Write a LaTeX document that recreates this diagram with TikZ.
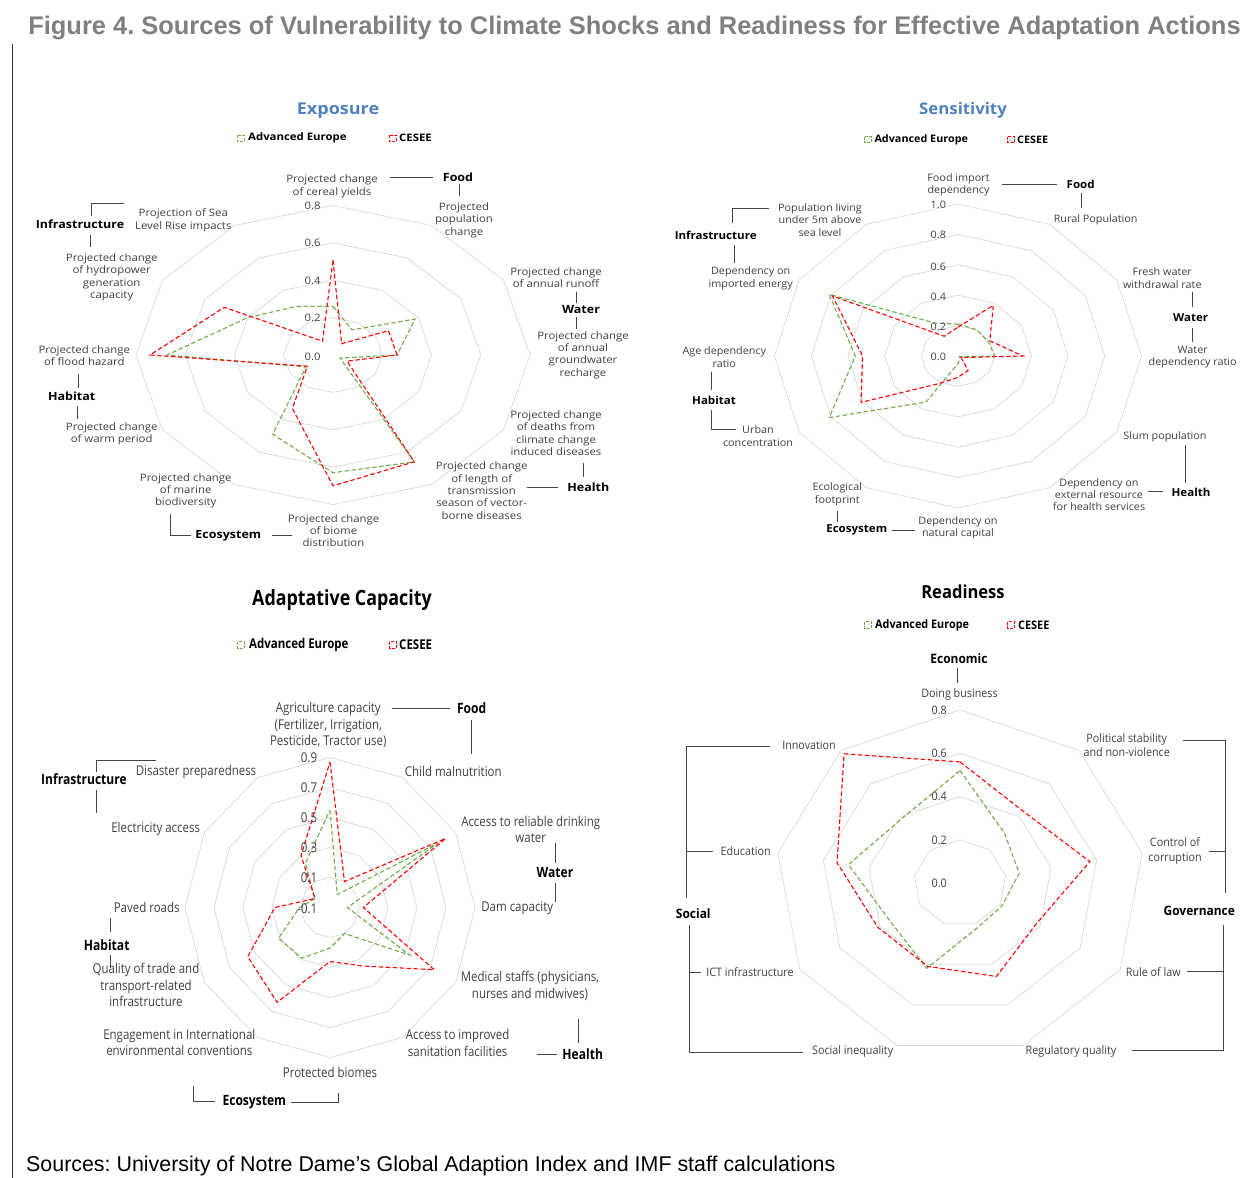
\documentclass[tikz,border=0pt]{standalone}
\usepackage{fontspec}
\setmainfont{Open Sans}
\frenchspacing
\newfontfamily\arialf{Liberation Sans}
\newfontfamily\fa{Open Sans}[FakeStretch=1.105]
\newfontfamily\fb{Open Sans}[FakeStretch=1.05]
\newfontfamily\fc{Open Sans}[FakeStretch=0.85]
\newfontfamily\fd{Open Sans}[FakeStretch=0.92]
\definecolor{labc}{RGB}{64,64,64}
\definecolor{stubc}{RGB}{70,70,70}
\definecolor{ringc}{RGB}{217,217,217}
\definecolor{advc}{RGB}{112,173,71}
\definecolor{cesc}{RGB}{255,0,0}
\definecolor{ttlblue}{RGB}{79,129,189}
\definecolor{figgray}{RGB}{128,128,128}
\tikzset{
 lab/.style={align=center, inner sep=0pt, text=labc},
 grp/.style={inner sep=0pt, text=black},
 sc/.style={inner sep=0pt, text=labc},
 stub/.style={draw=stubc, line width=0.9pt},
 ring/.style={draw=ringc, line width=0.7pt},
 advl/.style={draw=advc, line width=1.1pt, dash pattern=on 4.5pt off 2.5pt, line join=miter},
 cesl/.style={draw=cesc, line width=1.1pt, dash pattern=on 4.5pt off 2.5pt, line join=miter},
 advm/.style={draw=advc, line width=1pt, dash pattern=on 3pt off 1.5pt},
 cesm/.style={draw=cesc, line width=1pt, dash pattern=on 3pt off 1.5pt},
 fA/.style={font=\fa\fontsize{10.3}{12.4}\selectfont},
 fAb/.style={font=\fa\bfseries\fontsize{11.3}{13}\selectfont},
 fAl/.style={font=\fa\bfseries\fontsize{10.3}{12}\selectfont},
 fB/.style={font=\fb\fontsize{10.3}{12.4}\selectfont},
 fBb/.style={font=\fb\bfseries\fontsize{11}{13}\selectfont},
 fBl/.style={font=\fb\bfseries\fontsize{10.3}{12}\selectfont},
 fC/.style={font=\fc\fontsize{13.5}{16.7}\selectfont},
 fCb/.style={font=\fc\bfseries\fontsize{14.2}{16}\selectfont},
 fCl/.style={font=\fc\bfseries\fontsize{13.5}{15}\selectfont},
 fD/.style={font=\fd\fontsize{11.7}{14.6}\selectfont},
 fDb/.style={font=\fd\bfseries\fontsize{13}{15}\selectfont},
 fDl/.style={font=\fd\bfseries\fontsize{11.8}{13}\selectfont},
}
\begin{document}
\begin{tikzpicture}[x=1pt,y=-1pt]
\useasboundingbox[fill=white] (0,0) rectangle (1248,1178);
% frame
\draw[line width=1pt, black!80] (12,44) -- (12,1178);
% main title and source
\node[inner sep=0pt, text=figgray, font=\arialf\bfseries\fontsize{25.45}{28}\selectfont] (fig) at (634.5,27.5) {Figure 4. Sources of Vulnerability to Climate Shocks and Readiness for Effective Adaptation Actions};
\node[inner sep=0pt, anchor=west, font=\arialf\fontsize{21.4}{24}\selectfont] (src) at (26,1166) {Sources: University of Notre Dame’s Global Adaption Index and IMF staff calculations};

%================ CHART 1: EXPOSURE =================
\node[inner sep=0pt, text=ttlblue, font=\fa\bfseries\fontsize{16.3}{18}\selectfont] (e-t) at (338,111) {Exposure};
\draw[advm] (237,135) rectangle (244,141);
\node[grp, fAl, anchor=west] (e-lg1) at (248,138) {Advanced Europe};
\draw[cesm] (389,135) rectangle (396,141);
\node[grp, fAl, anchor=west] (e-lg2) at (399,138) {CESEE};
\begin{scope}[shift={(333,355)}, x=246.25pt, y=186.875pt]
 \foreach \r in {0.2,0.4,0.6,0.8} \draw[ring] (90:\r) \foreach \k in {1,...,11}{ -- ({90-30*\k}:\r)} -- cycle;
 \draw[advl] (90:0.26) -- (60:0.155) -- (30:0.385) -- (0:0.26) -- (-30:0.033) -- (-60:0.66) -- (-90:0.63) -- (-120:0.49) -- (-150:0.127) -- (-180:0.674) -- (-210:0.40) -- (-240:0.30) -- cycle;
 \draw[cesl] (90:0.508) -- (60:0.07) -- (30:0.26) -- (0:0.26) -- (-30:0.066) -- (-60:0.66) -- (-90:0.70) -- (-120:0.33) -- (-150:0.12) -- (-180:0.743) -- (-210:0.51) -- (-240:0.085) -- cycle;
\end{scope}
\node[sc, fA] (e-s8) at (312.7,206) {0.8};
\node[sc, fA] (e-s6) at (312.7,243.3) {0.6};
\node[sc, fA] (e-s4) at (312.7,280.7) {0.4};
\node[sc, fA] (e-s2) at (312.7,318.3) {0.2};
\node[sc, fA] (e-s0) at (312.7,356.7) {0.0};
\node[lab, fA] (e-l0) at (332,186.5) {Projected change\\of cereal yields};
\node[grp, fAb] (e-food) at (458,177) {Food};
\draw[stub] (390,177) -- (433,177);
\draw[stub] (459,184) -- (459,196);
\node[lab, fA] (e-l1) at (464,220.3) {Projected\\population\\change};
\node[lab, fA] (e-l2) at (556,277.7) {Projected change\\of annual runoff};
\draw[stub] (576.5,291.5) -- (576.5,303.3);
\node[grp, fAb] (e-water) at (581,310) {Water};
\draw[stub] (576.5,317) -- (576.5,328.5);
\node[lab, fA] (e-l3) at (583,355) {Projected change\\of annual\\groundwater\\recharge};
\node[lab, fA] (e-l4) at (556,433.3) {Projected change\\of deaths from\\climate change\\induced diseases};
\draw[stub] (583.5,463.3) -- (583.5,476.7);
\node[grp, fAb] (e-health) at (588.3,487.3) {Health};
\draw[stub] (526.5,487.3) -- (558.3,487.3);
\node[lab, fA] (e-l5) at (481.7,490.7) {Projected change\\of length of\\transmission\\season of vector-\\borne diseases};
\node[lab, fA] (e-l6) at (333.5,530.7) {Projected change\\of biome\\distribution};
\node[grp, fAb] (e-eco) at (228.3,535.7) {Ecosystem};
\draw[stub] (170,514) -- (170,535.7) -- (190.7,535.7);
\draw[stub] (272.3,535.7) -- (291.7,535.7);
\node[lab, fA] (e-l7) at (185.7,490.9) {Projected change\\of marine\\biodiversity};
\node[lab, fA] (e-l9) at (84.3,355.8) {Projected change\\of flood hazard};
\draw[stub] (78.3,374) -- (78.3,388.3);
\node[grp, fAb] (e-hab) at (71.7,396.7) {Habitat};
\draw[stub] (77.8,406) -- (77.8,419.3);
\node[lab, fA] (e-l8) at (111.7,433.8) {Projected change\\of warm period};
\node[grp, fAb] (e-inf) at (80,224.3) {Infrastructure};
\draw[stub] (91.7,215.7) -- (91.7,203.3) -- (124,203.3);
\draw[stub] (90,235) -- (90,247.3);
\node[lab, fA] (e-l10) at (111.7,277.5) {Projected change\\of hydropower\\generation\\capacity};
\node[lab, fA] (e-l11) at (183.3,220.3) {Projection of Sea\\Level Rise impacts};

%================ CHART 2: SENSITIVITY =================
\node[inner sep=0pt, text=ttlblue, font=\fb\bfseries\fontsize{16}{18}\selectfont] (s-t) at (963,110.5) {Sensitivity};
\draw[advm] (864,136.5) rectangle (871,142.5);
\node[grp, fBl, anchor=west] (s-lg1) at (874.3,140) {Advanced Europe};
\draw[cesm] (1007.5,136.5) rectangle (1014.5,142.5);
\node[grp, fBl, anchor=west] (s-lg2) at (1017,140) {CESEE};
\begin{scope}[shift={(958,356)}, x=183.5pt, y=152pt]
 \foreach \r in {0.2,0.4,0.6,0.8,1.0} \draw[ring] (90:\r) \foreach \k in {1,...,11}{ -- ({90-30*\k}:\r)} -- cycle;
 \draw[advl] (90:0.21) -- (60:0.2) -- (30:0.19) -- (0:0.2) -- (-30:0.01) -- (-60:0.02) -- (-90:0.05) -- (-120:0.35) -- (-150:0.81) -- (-180:0.56) -- (-210:0.81) -- (-240:0.25) -- cycle;
 \draw[cesl] (90:0.19) -- (60:0.385) -- (30:0.2) -- (0:0.354) -- (-30:0.02) -- (-60:0.11) -- (-90:0.14) -- (-120:0.21) -- (-150:0.61) -- (-180:0.52) -- (-210:0.79) -- (-240:0.15) -- cycle;
\end{scope}
\node[sc, fB] (s-s10) at (938.3,205) {1.0};
\node[sc, fB] (s-s8) at (938.3,235) {0.8};
\node[sc, fB] (s-s6) at (938.3,266.7) {0.6};
\node[sc, fB] (s-s4) at (938.3,296.7) {0.4};
\node[sc, fB] (s-s2) at (938.3,326.7) {0.2};
\node[sc, fB] (s-s0) at (938.3,357.3) {0.0};
\node[lab, fB] (s-l0) at (958.5,185) {Food import\\dependency};
\draw[stub] (1001.7,184.3) -- (1057.3,184.3);
\node[grp, fBb] (s-food) at (1080.7,184.3) {Food};
\draw[stub] (1081.3,193.3) -- (1081.3,208.3);
\node[lab, fB] (s-l1) at (1095.7,220) {Rural Population};
\node[lab, fB] (s-l2) at (1162.3,278.3) {Fresh water\\withdrawal rate};
\draw[stub] (1192.3,292.3) -- (1192.3,307.3);
\node[grp, fBb] (s-water) at (1190.7,317.3) {Water};
\draw[stub] (1192.3,328.3) -- (1192.3,341.7);
\node[lab, fB] (s-l3) at (1192.7,357) {Water\\dependency ratio};
\node[lab, fB] (s-l4) at (1165,436.7) {Slum population};
\draw[stub] (1185.7,445) -- (1185.7,482.7);
\node[grp, fBb] (s-health) at (1191,492.3) {Health};
\draw[stub] (1148.3,491.7) -- (1163.3,491.7);
\node[lab, fB] (s-l5) at (1099,494.6) {Dependency on\\external resource\\for health services};
\node[lab, fB] (s-l6) at (958,528) {Dependency on\\natural capital};
\node[grp, fBb] (s-eco) at (856.7,530) {Ecosystem};
\draw[stub] (891.7,530) -- (915,530);
\draw[stub] (837.7,510.7) -- (837.7,521.7);
\node[lab, fB] (s-l7) at (837.3,494.3) {Ecological\\footprint};
\node[lab, fB] (s-l8) at (758,436.3) {Urban\\concentration};
\node[grp, fBb] (s-hab) at (714,400) {Habitat};
\draw[stub] (711.7,371.7) -- (711.7,390);
\draw[stub] (711.7,410) -- (711.7,429.3) -- (736,429.3);
\node[lab, fB] (s-l9) at (724.3,357.2) {Age dependency\\ratio};
\node[lab, fB] (s-l10) at (750.7,278.3) {Dependency on\\imported energy};
\draw[stub] (734,245) -- (734,263.3);
\node[grp, fBb] (s-inf) at (715.7,235) {Infrastructure};
\draw[stub] (732.3,223.3) -- (732.3,208.3) -- (769.3,208.3);
\node[lab, fB] (s-l11) at (820,220) {Population living\\under 5m above\\sea level};

%================ CHART 3: ADAPTATIVE CAPACITY =================
\node[inner sep=0pt, text=black, font=\fc\bfseries\fontsize{21}{24}\selectfont] (a-t) at (342,600) {Adaptative Capacity};
\draw[advm] (237.5,641.5) rectangle (244.5,648);
\node[grp, fCl, anchor=west] (a-lg1) at (249,645) {Advanced Europe};
\draw[cesm] (389.5,641.5) rectangle (396.5,648);
\node[grp, fCl, anchor=west] (a-lg2) at (399,645) {CESEE};
\begin{scope}[shift={(330,907.5)}, x=145pt, y=150pt]
 \foreach \r in {0.2,0.4,0.6,0.8,1.0} \draw[ring] (90:\r) \foreach \k in {1,...,11}{ -- ({90-30*\k}:\r)} -- cycle;
 \draw[advl] (90:0.65) -- (60:0.1) -- (30:0.86) -- (0:0.12) -- (-30:0.635) -- (-60:0.2) -- (-90:0.27) -- (-120:0.39) -- (-150:0.41) -- (-180:0.21) -- (-210:0.12) -- (-240:0.34) -- cycle;
 \draw[cesl] (90:0.97) -- (60:0.2) -- (30:0.92) -- (0:0.23) -- (-30:0.83) -- (-60:0.45) -- (-90:0.36) -- (-120:0.73) -- (-150:0.655) -- (-180:0.38) -- (-210:0.12) -- (-240:0.40) -- cycle;
\end{scope}
\node[sc, fC] (a-s9) at (309,757.7) {0.9};
\node[sc, fC] (a-s7) at (309,787.7) {0.7};
\node[sc, fC] (a-s5) at (309,817.7) {0.5};
\node[sc, fC] (a-s3) at (309,847.7) {0.3};
\node[sc, fC] (a-s1) at (309,877.7) {0.1};
\node[sc, fC] (a-sm1) at (307.3,908.3) {-0.1};
\node[lab, fC] (a-l0) at (328.3,725) {Agriculture capacity\\(Fertilizer, Irrigation,\\Pesticide, Tractor use)};
\draw[stub] (391.7,708.3) -- (450,708.3);
\node[grp, fCb] (a-food) at (471.7,708.3) {Food};
\draw[stub] (471,720) -- (471,754);
\node[lab, fC] (a-l1) at (453.3,771.7) {Child malnutrition};
\node[lab, fC] (a-l2) at (530.7,829.3) {Access to reliable drinking\\water};
\draw[stub] (555.7,842.7) -- (555.7,862.7);
\node[grp, fCb] (a-water) at (555,872.7) {Water};
\draw[stub] (555.7,883.3) -- (555.7,902.3);
\node[lab, fC] (a-l3) at (517.3,908.3) {Dam capacity};
\node[lab, fC] (a-l4) at (530,985.7) {Medical staffs (physicians,\\nurses and midwives)};
\draw[stub] (578.3,1019.3) -- (578.3,1042.7);
\node[lab, fC] (a-l5) at (457.7,1042.8) {Access to improved\\sanitation facilities};
\draw[stub] (536.7,1054.3) -- (557.3,1054.3);
\node[grp, fCb] (a-health) at (582.7,1054.3) {Health};
\node[lab, fC] (a-l6) at (330,1072.7) {Protected biomes};
\node[grp, fCb] (a-eco) at (254.3,1101.7) {Ecosystem};
\draw[stub] (193.3,1086) -- (193.3,1101.7) -- (215,1101.7);
\draw[stub] (291,1102.5) -- (338.3,1102.5) -- (338.3,1093.3);
\node[lab, fC] (a-l7) at (179.3,1042.5) {Engagement in International\\environmental conventions};
\node[lab, fC] (a-l8) at (146,985) {Quality of trade and\\transport-related\\infrastructure};
\node[grp, fCb] (a-hab) at (106.7,945) {Habitat};
\draw[stub] (110,917.7) -- (110,932.3);
\draw[stub] (110,955) -- (110,968.3);
\node[lab, fC] (a-l9) at (146.7,907.7) {Paved roads};
\node[lab, fC] (a-l10) at (155.7,828.7) {Electricity access};
\node[grp, fCb] (a-inf) at (84,779.3) {Infrastructure};
\draw[stub] (96.7,771.7) -- (96.7,760.7) -- (156,760.7);
\draw[stub] (96,790) -- (96,813.3);
\node[lab, fC] (a-l11) at (196,771.7) {Disaster preparedness};

%================ CHART 4: READINESS =================
\node[inner sep=0pt, text=black, font=\fd\bfseries\fontsize{18}{20}\selectfont] (r-t) at (963,592) {Readiness};
\draw[advm] (864.5,621.5) rectangle (871.5,628);
\node[grp, fDl, anchor=west] (r-lg1) at (875,625) {Advanced Europe};
\draw[cesm] (1007.5,621.5) rectangle (1014.5,628);
\node[grp, fDl, anchor=west] (r-lg2) at (1018,625) {CESEE};
\begin{scope}[shift={(960,883)}, x=231.25pt, y=216.25pt]
 \foreach \r in {0.2,0.4,0.6,0.8} \draw[ring] (90:\r) \foreach \k in {1,...,8}{ -- ({90-40*\k}:\r)} -- cycle;
 \draw[advl] (90:0.52) -- (50:0.30) -- (10:0.26) -- (-30:0.21) -- (-70:0.22) -- (-110:0.42) -- (-150:0.35) -- (-190:0.49) -- (-230:0.39) -- cycle;
 \draw[cesl] (90:0.56) -- (50:0.43) -- (10:0.57) -- (-30:0.38) -- (-70:0.46) -- (-110:0.41) -- (-150:0.41) -- (-190:0.54) -- (-230:0.78) -- cycle;
\end{scope}
\node[sc, fD] (r-s8) at (939.3,710.7) {0.8};
\node[sc, fD] (r-s6) at (939.3,753.3) {0.6};
\node[sc, fD] (r-s4) at (939.3,796.7) {0.4};
\node[sc, fD] (r-s2) at (939.3,840) {0.2};
\node[sc, fD] (r-s0) at (939.3,883.3) {0.0};
\node[grp, fDb] (r-econ) at (959,659) {Economic};
\draw[stub] (957.7,668.3) -- (957.7,683.3);
\node[lab, fD] (r-l0) at (959.5,694) {Doing business};
\node[lab, fD] (r-l8) at (809,745.7) {Innovation};
\draw[stub] (770,746.7) -- (686.7,746.7) -- (686.7,898.3);
\draw[stub] (686.7,851.3) -- (712.7,851.3);
\node[lab, fD] (r-l7) at (745.7,851.3) {Education};
\node[grp, fDb] (r-soc) at (693.3,914) {Social};
\draw[stub] (689.3,925) -- (689.3,1052.7) -- (802.7,1052.7);
\draw[stub] (689.3,972.3) -- (700.7,972.3);
\node[lab, fD] (r-l6) at (750,972.3) {ICT infrastructure};
\node[lab, fD] (r-l5) at (852.7,1051.7) {Social inequality};
\node[lab, fD] (r-l1) at (1126.7,745) {Political stability\\and non-violence};
\draw[stub] (1182.7,740.7) -- (1225,740.7) -- (1225,893.3);
\draw[stub] (1209.3,851.7) -- (1225,851.7);
\node[lab, fD] (r-l2) at (1175,851.2) {Control of\\corruption};
\node[grp, fDb] (r-gov) at (1199.3,911) {Governance};
\draw[stub] (1223.3,925) -- (1223.3,1050) -- (1131.7,1050);
\draw[stub] (1187.3,971.7) -- (1223.3,971.7);
\node[lab, fD] (r-l3) at (1153.3,972.3) {Rule of law};
\node[lab, fD] (r-l4) at (1071,1051.7) {Regulatory quality};
\end{tikzpicture}
\end{document}
